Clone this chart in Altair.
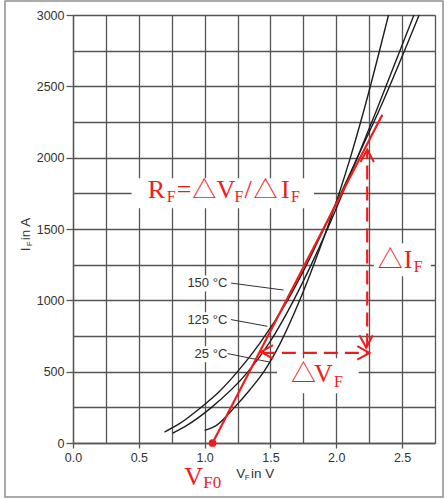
import altair as alt
import pandas as pd

RED = "#f01c1c"

# ---- forward characteristics (V_F in V, I_F in A) ----
v_150 = [0.695, 0.80, 0.97, 1.10, 1.25, 1.42, 1.63, 1.775, 1.905, 2.035, 2.16, 2.326, 2.63]
i_150 = [77, 130, 248, 350, 500, 700, 1000, 1250, 1500, 1750, 2000, 2332, 3000]
v_125 = [0.758, 0.85, 1.05, 1.33, 1.49, 1.676, 1.81, 1.933, 2.048, 2.16, 2.306, 2.59]
i_125 = [70, 115, 248, 500, 700, 1000, 1250, 1500, 1750, 2000, 2332, 3000]
v_25 = [1.00, 1.09, 1.225, 1.341, 1.45, 1.575, 1.722, 1.829, 1.929, 2.022, 2.107, 2.21, 2.397]
i_25 = [89, 124, 248, 370, 500, 700, 1000, 1250, 1500, 1750, 2000, 2332, 3000]

# ---- red linear approximation (V_F0 and R_F) ----
fit_v = [1.06, 2.35]
fit_i = [0, 2300]
vf0_v = [1.06]
vf0_i = [0]

# dashed construction lines (delta V_F / delta I_F)
dv_v = [1.427, 2.253]
dv_i = [632, 632]
di_v = [2.235, 2.235]
di_i = [669, 2056]

# arrow tips: v, i, direction angle
arr_v = [2.235, 2.227, 1.427, 2.253]
arr_i = [2056, 669, 638, 631]
arr_a = [270, 90, 180, 0]

# axis ticks
x_ticks = [0.0, 0.25, 0.5, 0.75, 1.0, 1.25, 1.5, 1.75, 2.0, 2.25, 2.5, 2.75]
y_ticks = [0, 250, 500, 750, 1000, 1250, 1500, 1750, 2000, 2250, 2500, 2750, 3000]

# temperature labels and leaders
lab_text = ["150 °C", "125 °C", "25 °C"]
lab_v = [1.172, 1.172, 1.172]
lab_i = [1119, 860, 622]
lead_v1 = [1.20, 1.20, 1.174]
lead_i1 = [1121, 865, 627]
lead_v2 = [1.60, 1.477, 1.49]
lead_i2 = [1072, 818, 568]

# white boxes behind annotations (v1, v2, i1, i2)
box_v1 = [0.445, 2.285, 1.55, 0.83, 0.83, 0.85]
box_v2 = [1.831, 2.718, 2.17, 1.18, 1.18, 1.18]
box_i1 = [1645, 1168, 348, 1062, 804, 566]
box_i2 = [1855, 1400, 594, 1174, 916, 678]

# red serif annotation pieces (text, v, i, font size)
red_t = ["R", "F", "=", "△", "V", "F", "/", "△", "I", "F",
         "△", "I", "F",
         "△", "V", "F",
         "V", "F0"]
red_v = [0.568, 0.712, 0.788, 0.905, 1.090, 1.227, 1.303, 1.372, 1.581, 1.657,
         2.315, 2.513, 2.589,
         1.656, 1.831, 1.983,
         0.846, 0.99]
red_i = [1715, 1691, 1715, 1715, 1715, 1691, 1715, 1715, 1715, 1691,
         1224, 1224, 1196,
         425, 425, 390,
         -296, -317]
red_s = [26, 16, 26, 24, 26, 16, 26, 24, 26, 16,
         25, 26, 16,
         25, 26, 16,
         26, 17]

# axis title pieces (text, v, i, size, angle)
tt_t = ["V", "F", "in V", "I", "F", "in A"]
tt_v = [1.24, 1.305, 1.352, -0.328, -0.313, -0.328]
tt_i = [-248, -262, -248, 1344, 1379, 1421]
tt_s = [13.5, 8, 13.5, 13.5, 8, 13.5]
tt_a = [0, 0, 0, 270, 270, 270]

# ---- tables ----
curves = pd.concat([
    pd.DataFrame({"v": v_150, "i": i_150, "c": "150"}),
    pd.DataFrame({"v": v_125, "i": i_125, "c": "125"}),
    pd.DataFrame({"v": v_25, "i": i_25, "c": "25"}),
])
fit = pd.DataFrame({"v": fit_v, "i": fit_i})
dot = pd.DataFrame({"v": vf0_v, "i": vf0_i})
dashes = pd.DataFrame({"v": [dv_v[0], di_v[0]], "v2": [dv_v[1], di_v[1]],
                       "i": [dv_i[0], di_i[0]], "i2": [dv_i[1], di_i[1]]})
arrows = pd.DataFrame({"v": arr_v, "i": arr_i, "a": arr_a})
labels = pd.DataFrame({"t": lab_text, "v": lab_v, "i": lab_i})
leaders = pd.DataFrame({"v": lead_v1, "i": lead_i1, "v2": lead_v2, "i2": lead_i2})
boxes = pd.DataFrame({"v": box_v1, "v2": box_v2, "i": box_i1, "i2": box_i2})
redtxt = pd.DataFrame({"t": red_t, "v": red_v, "i": red_i, "s": red_s})
titles = pd.DataFrame({"t": tt_t, "v": tt_v, "i": tt_i, "s": tt_s, "a": tt_a})

xs = alt.Scale(domain=[0, 2.75], nice=False, zero=False)
ys = alt.Scale(domain=[0, 3000], nice=False, zero=False)

GRID = "#555555"
x_axis = alt.Axis(
    values=x_ticks, title=None, grid=True, gridColor=GRID, gridWidth=1.3,
    domainColor=GRID, domainWidth=1.3, tickSize=5, tickWidth=1.3,
    tickColor={"condition": {"test": "datum.value % 0.5 === 0", "value": GRID}, "value": "transparent"},
    labelExpr="datum.value % 0.5 === 0 ? format(datum.value, '.1f') : ''",
    labelFlush=False, labelOverlap=False, labelPadding=3,
    labelFont="Liberation Sans", labelFontSize=12.5, labelColor="#333",
)
y_axis = alt.Axis(
    values=y_ticks, title=None, grid=True, gridColor=GRID, gridWidth=1.3,
    domainColor=GRID, domainWidth=1.3, tickSize=7, tickWidth=1.3,
    tickColor={"condition": {"test": "datum.value % 500 === 0", "value": GRID}, "value": "transparent"},
    labelExpr="datum.value % 500 === 0 ? format(datum.value, 'd') : ''",
    labelFlush=False, labelOverlap=False, labelPadding=2,
    labelFont="Liberation Sans", labelFontSize=12.5, labelColor="#333",
)


def X(f="v"):
    return alt.X(f"{f}:Q", scale=xs, axis=x_axis)


def Y(f="i"):
    return alt.Y(f"{f}:Q", scale=ys, axis=y_axis)


box_layer = alt.Chart(boxes).mark_rect(fill="white").encode(
    x=X(), x2="v2:Q", y=Y(), y2="i2:Q")

curve_layer = alt.Chart(curves).mark_line(color="#1e1e1e", strokeWidth=1.4, interpolate="monotone").encode(
    x=X(), y=Y(), detail="c:N")

leader_layer = alt.Chart(leaders).mark_rule(color="#333", strokeWidth=1).encode(
    x=X(), x2="v2:Q", y=Y(), y2="i2:Q")

label_layer = alt.Chart(labels).mark_text(
    align="right", baseline="middle", font="Liberation Sans", fontSize=13, color="#333").encode(
    x=X(), y=Y(), text="t:N")

fit_layer = alt.Chart(fit).mark_line(color=RED, strokeWidth=2.2).encode(x=X(), y=Y())

dot_layer = alt.Chart(dot).mark_point(filled=True, color=RED, size=60, opacity=1).encode(x=X(), y=Y())

dash_layer = alt.Chart(dashes).mark_rule(color=RED, strokeWidth=2.2, strokeDash=[14, 7]).encode(
    x=X(), x2="v2:Q", y=Y(), y2="i2:Q")

arrow_layer = alt.Chart(arrows).mark_point(
    shape="M-1,-0.55L0,0L-1,0.55", filled=False, color=RED, strokeWidth=2, size=600, opacity=1).encode(
    x=X(), y=Y(), angle=alt.Angle("a:Q", scale=None))

red_layer = alt.Chart(redtxt).mark_text(
    align="left", baseline="alphabetic", font="Liberation Serif, Noto Sans CJK JP", color=RED).encode(
    x=X(), y=Y(), text="t:N", size=alt.Size("s:Q", scale=None, legend=None))

title_layer = alt.Chart(titles).mark_text(
    align="left", baseline="alphabetic", font="Liberation Sans", color="#333").encode(
    x=X(), y=Y(), text="t:N", size=alt.Size("s:Q", scale=None, legend=None),
    angle=alt.Angle("a:Q", scale=None))

frame_layer = alt.Chart(dot).mark_rect(fill=None, stroke="#8f8f8f", strokeWidth=1.5).encode(
    x=alt.value(-68), x2=alt.value(370), y=alt.value(-14), y2=alt.value(482))

chart = alt.layer(
    box_layer, curve_layer, leader_layer, label_layer, fit_layer, dot_layer,
    dash_layer, arrow_layer, red_layer, title_layer, frame_layer
).properties(
    width=362, height=428,
    padding={"left": 73, "top": 15, "right": 13, "bottom": 56},
    autosize=alt.AutoSizeParams(type="none"),
).configure_view(stroke=GRID, strokeWidth=1.3).configure(background="white")

chart.save("out.html", embed_options={"renderer": "svg", "actions": False})
